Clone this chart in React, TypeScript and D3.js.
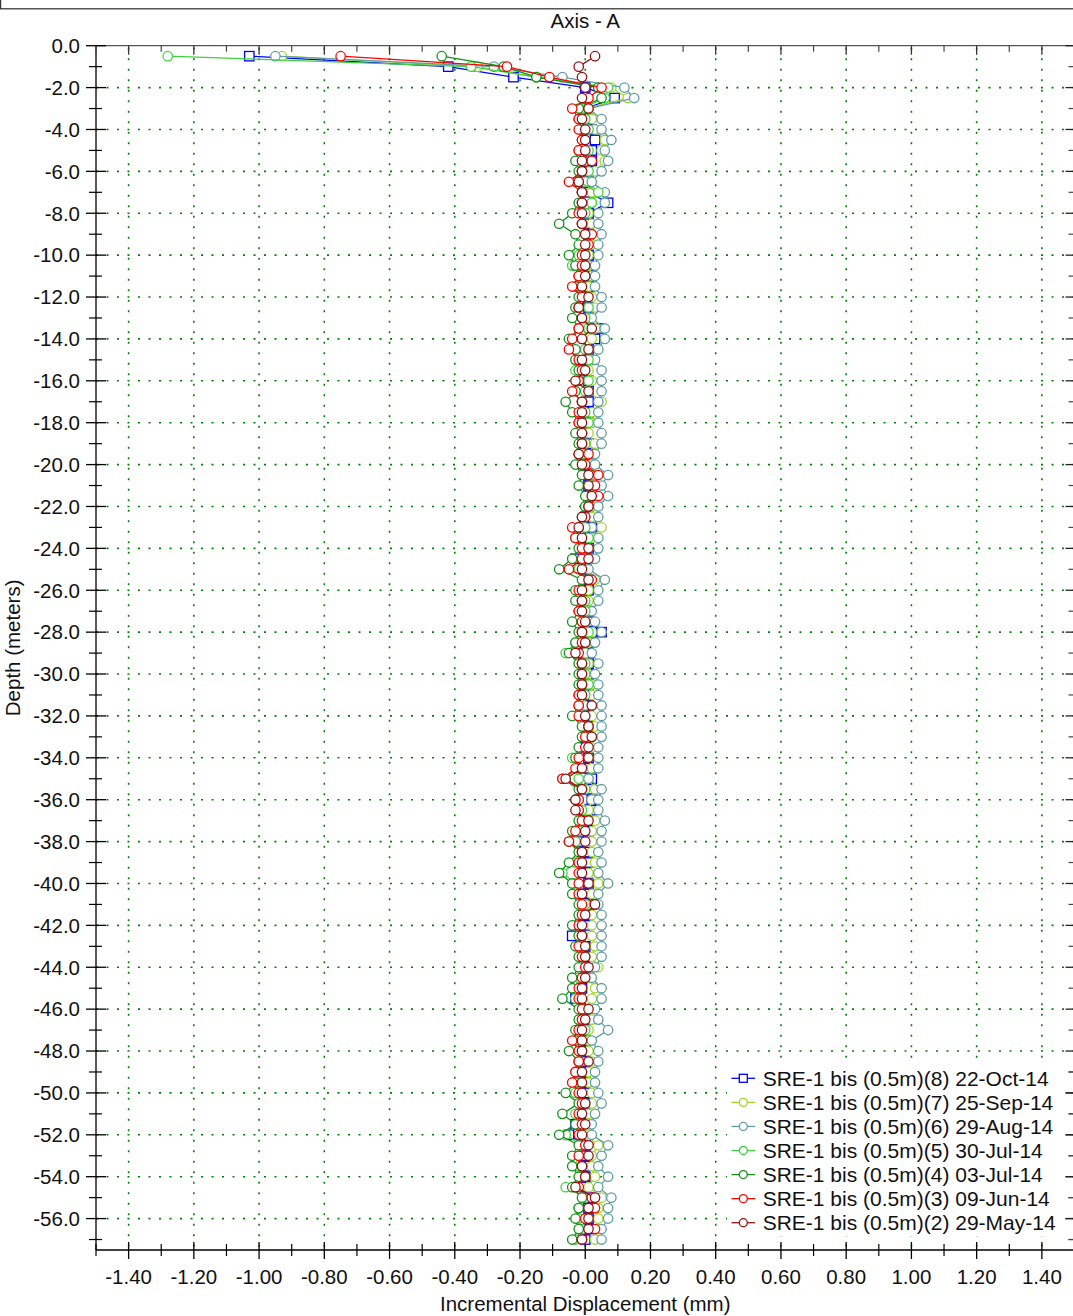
import React from "react";
import * as d3 from "d3";

// Probe depths (m): -0.5 ... -57.0 every 0.5 m
const depths: number[] = d3.range(1, 115).map((k) => -0.5 * k);

// Incremental displacement (mm) per survey
const s8 = [
  -1.03, -0.42, -0.22, 0.0, 0.09, 0.0, 0.01, 0.02, 0.03, 0.02,
  0.02, 0.01, 0.0, 0.01, 0.07, 0.01, 0.01, 0.01, 0.01, 0.01,
  0.01, 0.02, 0.01, 0.01, 0.01, 0.01, 0.04, 0.03, 0.01, 0.01,
  0.0, 0.01, 0.01, 0.01, 0.01, 0.01, 0.0, 0.01, 0.01, 0.0,
  0.01, 0.01, 0.01, 0.01, 0.0, 0.02, 0.01, 0.01, -0.03, 0.0,
  0.01, 0.01, 0.0, 0.01, 0.01, 0.05, 0.01, 0.0, 0.01, 0.01,
  0.01, 0.01, 0.01, 0.0, 0.01, 0.01, 0.0, 0.01, 0.01, 0.02,
  0.01, 0.02, 0.02, 0.01, 0.01, -0.02, 0.0, 0.01, 0.0, 0.01,
  0.0, 0.02, 0.01, 0.0, -0.04, 0.0, 0.0, 0.0, 0.0, -0.01,
  -0.03, 0.0, 0.0, 0.0, 0.0, 0.0, 0.0, -0.01, 0.0, 0.0,
  0.0, -0.01, -0.03, -0.05, 0.0, 0.0, 0.0, 0.0, 0.0, 0.01,
  0.01, 0.01, 0.01, 0.0,
];
const s7 = [
  -0.93, -0.33, -0.15, 0.08, 0.13, 0.0, 0.02, 0.03, 0.06, 0.05,
  0.06, 0.03, 0.0, 0.02, 0.02, 0.01, 0.02, 0.02, 0.02, 0.01,
  0.01, 0.02, 0.01, 0.02, 0.03, 0.01, 0.03, 0.02, 0.01, 0.02,
  0.01, 0.02, 0.01, 0.05, 0.02, 0.02, 0.01, 0.03, 0.01, 0.02,
  0.03, 0.02, 0.03, 0.02, 0.02, 0.05, 0.02, 0.01, 0.01, 0.0,
  0.03, 0.01, 0.01, 0.01, 0.0, 0.02, 0.01, 0.0, 0.01, 0.01,
  0.02, 0.02, 0.02, 0.02, 0.03, 0.02, 0.02, 0.01, 0.02, 0.01,
  0.03, 0.02, 0.01, 0.03, 0.02, 0.02, 0.02, 0.03, 0.01, 0.04,
  0.02, 0.01, 0.02, 0.02, 0.02, 0.03, 0.02, 0.04, 0.01, 0.03,
  0.02, 0.01, 0.02, 0.01, 0.01, 0.01, 0.02, 0.01, 0.01, 0.02,
  0.02, 0.01, 0.01, 0.0, 0.04, 0.02, 0.02, 0.03, 0.01, 0.05,
  0.04, 0.04, 0.04, 0.03,
];
const s6 = [
  -0.95, -0.28, -0.07, 0.12, 0.15, 0.01, 0.05, 0.05, 0.08, 0.06,
  0.07, 0.05, 0.02, 0.06, 0.06, 0.04, 0.04, 0.05, 0.04, 0.04,
  0.03, 0.03, 0.03, 0.05, 0.05, 0.02, 0.06, 0.06, 0.04, 0.03,
  0.05, 0.05, 0.05, 0.04, 0.04, 0.04, 0.05, 0.05, 0.03, 0.03,
  0.07, 0.05, 0.07, 0.04, 0.04, 0.02, 0.04, 0.04, 0.03, 0.01,
  0.06, 0.04, 0.04, 0.02, 0.03, 0.05, 0.03, 0.02, 0.04, 0.03,
  0.04, 0.04, 0.05, 0.05, 0.05, 0.05, 0.04, 0.04, 0.04, 0.01,
  0.05, 0.04, 0.04, 0.06, 0.05, 0.05, 0.04, 0.05, 0.04, 0.07,
  0.04, 0.04, 0.05, 0.05, 0.05, 0.05, 0.05, 0.03, 0.02, 0.05,
  0.05, 0.03, 0.04, 0.07, 0.02, 0.04, 0.04, 0.03, 0.03, 0.04,
  0.05, 0.03, 0.02, 0.02, 0.07, 0.05, 0.04, 0.07, 0.04, 0.08,
  0.07, 0.07, 0.05, 0.05,
];
const s5 = [
  -1.28, -0.35, -0.15, 0.07, 0.06, -0.01, 0.0, 0.01, 0.0, 0.01,
  0.0, 0.01, -0.02, 0.04, 0.02, 0.0, -0.01, 0.0, 0.01, -0.02,
  -0.04, 0.0, -0.02, 0.0, 0.01, 0.0, 0.01, -0.01, 0.0, 0.01,
  -0.03, 0.01, 0.0, -0.01, 0.0, 0.01, -0.01, 0.0, 0.0, -0.01,
  0.02, 0.01, 0.02, 0.0, 0.0, 0.0, 0.01, 0.0, -0.01, -0.02,
  0.01, -0.01, 0.0, 0.0, -0.01, 0.01, -0.03, -0.06, 0.0, 0.0,
  0.01, 0.0, 0.0, -0.01, 0.0, 0.01, 0.0, -0.04, -0.01, -0.02,
  0.0, -0.02, -0.01, 0.0, -0.02, -0.03, -0.01, -0.03, -0.07, -0.03,
  -0.02, 0.0, -0.01, -0.02, -0.01, -0.01, 0.0, -0.01, -0.02, -0.01,
  -0.03, 0.0, -0.01, 0.0, -0.02, -0.01, -0.02, -0.01, -0.02, -0.03,
  0.0, -0.03, -0.02, -0.06, -0.01, -0.02, -0.02, -0.01, -0.06, 0.0,
  -0.02, -0.02, -0.01, -0.03,
];
const s4 = [
  -0.44, -0.25, -0.15, 0.04, 0.05, -0.02, -0.02, -0.01, -0.01, -0.02,
  -0.03, -0.02, -0.03, -0.01, -0.02, -0.04, -0.08, -0.03, -0.02, -0.05,
  -0.03, -0.02, -0.03, -0.02, -0.03, -0.04, -0.02, -0.05, -0.03, -0.03,
  -0.02, -0.02, -0.03, -0.06, -0.04, -0.02, -0.03, -0.02, -0.02, -0.03,
  -0.01, -0.02, 0.0, 0.0, -0.01, -0.02, -0.03, -0.02, -0.04, -0.08,
  -0.01, -0.03, -0.03, -0.02, -0.04, -0.02, -0.03, -0.05, -0.02, -0.02,
  -0.02, -0.02, -0.02, -0.04, -0.01, -0.01, -0.02, -0.03, -0.02, -0.07,
  -0.02, -0.03, -0.02, -0.02, -0.04, -0.05, -0.02, -0.05, -0.08, -0.04,
  -0.04, -0.02, -0.02, -0.04, -0.02, -0.03, -0.02, -0.02, -0.04, -0.04,
  -0.07, -0.02, -0.02, -0.03, -0.03, -0.05, -0.02, -0.03, -0.03, -0.06,
  -0.02, -0.07, -0.03, -0.08, -0.02, -0.04, -0.04, -0.02, -0.04, -0.01,
  -0.02, -0.03, -0.02, -0.04,
];
const s3 = [
  -0.75, -0.24, -0.11, 0.05, 0.01, -0.04, -0.02, -0.02, -0.01, -0.02,
  0.02, -0.01, -0.05, -0.01, -0.01, -0.02, -0.01, 0.02, 0.01, -0.01,
  -0.01, -0.02, -0.04, -0.01, -0.02, -0.01, -0.02, -0.04, -0.05, -0.02,
  -0.01, -0.02, -0.04, -0.01, -0.02, -0.02, -0.01, -0.01, 0.01, 0.0,
  0.04, 0.03, 0.04, 0.01, 0.0, -0.04, -0.03, -0.01, -0.01, -0.05,
  0.02, -0.02, -0.01, -0.02, -0.01, -0.01, -0.01, -0.02, -0.01, -0.01,
  -0.01, -0.02, -0.02, -0.02, 0.01, 0.0, 0.0, -0.02, -0.03, -0.07,
  -0.01, -0.02, -0.02, -0.01, -0.03, -0.05, -0.01, -0.02, -0.02, -0.02,
  -0.02, -0.01, -0.01, -0.02, -0.01, -0.02, -0.01, 0.0, -0.01, -0.02,
  -0.02, -0.01, -0.01, -0.02, -0.04, -0.02, -0.02, -0.03, -0.04, -0.02,
  -0.01, -0.02, -0.01, -0.02, 0.0, -0.02, -0.01, 0.0, -0.02, 0.02,
  0.03, 0.0, 0.03, -0.01,
];
const s2 = [
  0.03, -0.02, -0.01, 0.0, -0.01, 0.01, -0.01, 0.0, 0.0, 0.0,
  -0.01, -0.01, -0.02, -0.01, -0.01, -0.01, -0.01, 0.0, 0.0, 0.0,
  0.0, 0.0, -0.01, 0.01, -0.02, -0.01, 0.02, -0.01, 0.01, -0.01,
  0.0, -0.03, 0.01, -0.01, -0.01, -0.01, -0.01, -0.01, -0.02, -0.01,
  0.01, 0.01, 0.02, 0.01, -0.01, -0.02, -0.01, 0.01, 0.01, -0.01,
  0.01, -0.01, -0.01, -0.01, 0.0, -0.01, 0.0, -0.03, -0.01, -0.01,
  -0.01, -0.01, 0.02, 0.0, 0.01, 0.02, 0.01, 0.01, -0.01, -0.06,
  -0.01, -0.03, -0.03, 0.01, 0.0, 0.0, -0.01, -0.01, -0.01, 0.01,
  -0.01, 0.03, 0.0, -0.01, -0.01, 0.0, 0.0, 0.01, 0.0, -0.01,
  -0.01, 0.01, 0.0, -0.01, -0.01, -0.01, 0.01, -0.01, -0.01, -0.01,
  0.0, -0.01, 0.0, -0.01, 0.01, 0.01, -0.01, 0.0, -0.03, 0.03,
  0.01, 0.01, 0.01, -0.01,
];

const seriesValues = [s8, s7, s6, s5, s4, s3, s2];
const seriesNames = [
  "SRE-1 bis (0.5m)(8) 22-Oct-14",
  "SRE-1 bis (0.5m)(7) 25-Sep-14",
  "SRE-1 bis (0.5m)(6) 29-Aug-14",
  "SRE-1 bis (0.5m)(5) 30-Jul-14",
  "SRE-1 bis (0.5m)(4) 03-Jul-14",
  "SRE-1 bis (0.5m)(3) 09-Jun-14",
  "SRE-1 bis (0.5m)(2) 29-May-14",
];
const seriesColors = ["#0000ff", "#a2d62c", "#5f9ea0", "#3fd23f", "#15901a", "#ff0000", "#8e1414"];
const seriesShapes = ["square", "circle", "circle", "circle", "circle", "circle", "circle"];

const xMajorTicks = [-1.4, -1.2, -1.0, -0.8, -0.6, -0.4, -0.2, 0, 0.2, 0.4, 0.6, 0.8, 1.0, 1.2, 1.4];
const xTickLabels = ["-1.40", "-1.20", "-1.00", "-0.80", "-0.60", "-0.40", "-0.20", "-0.00", "0.20", "0.40", "0.60", "0.80", "1.00", "1.20", "1.40"];
const xMinorTicks = [-1.5, -1.3, -1.1, -0.9, -0.7, -0.5, -0.3, -0.1, 0.1, 0.3, 0.5, 0.7, 0.9, 1.1, 1.3, 1.5];
const yMajorTicks = d3.range(0, 29).map((k) => -2 * k);
const yTickLabels = yMajorTicks.map((v) => (v === 0 ? "0.0" : v.toFixed(1)));
const yMinorTicks = d3.range(0, 29).map((k) => -2 * k - 1);

const FONT = "'Liberation Sans', Arial, Helvetica, sans-serif";

export default function App() {
  const W = 1073;
  const H = 1316;
  const x = d3.scaleLinear().domain([-1.5, 1.5]).range([96, 1074.5]);
  const y = d3.scaleLinear().domain([0, -57.5]).range([45.7, 1250]);
  const left = x(-1.5);
  const right = x(1.5);
  const top = y(0);
  const bottom = y(-57.5);

  const line = d3
    .line<number>()
    .x((d) => x(d))
    .y((_, i) => y(depths[i]));

  const grid = "#008000";
  const dash = "2 8.5";

  const legX = 731.5;
  const legY0 = 1078.3;
  const legDy = 24.07;

  const marker = (shape: string, cx: number, cy: number, color: string, key: string | number, r = 4.7) =>
    shape === "square" ? (
      <rect key={key} x={cx - r} y={cy - r} width={2 * r} height={2 * r} fill="#fff" stroke={color} strokeWidth={1.3} />
    ) : (
      <circle key={key} cx={cx} cy={cy} r={r} fill="#fff" stroke={color} strokeWidth={1.3} />
    );

  return (
    <svg
      width={W}
      height={H}
      viewBox={`0 0 ${W} ${H}`}
      style={{ position: "absolute", left: 0, top: 0, background: "#fff" }}
      fontFamily={FONT}
    >
      <rect x={0} y={0} width={W} height={H} fill="#fff" />
      {/* header frame */}
      <line x1={0} x2={W} y1={8.7} y2={8.7} stroke="#555" strokeWidth={1.6} />
      <line x1={0.6} x2={0.6} y1={0} y2={9} stroke="#333" strokeWidth={1.2} />
      <text x={(left + right) / 2} y={28} textAnchor="middle" fontSize={20.5} fill="#111">
        Axis - A
      </text>

      {/* grid */}
      {xMajorTicks.map((v) => (
        <line key={`gx${v}`} x1={x(v)} x2={x(v)} y1={top + 2} y2={bottom} stroke={grid} strokeWidth={1.6} strokeDasharray={dash} />
      ))}
      {yMajorTicks
        .filter((v) => v !== 0)
        .map((v) => (
          <line key={`gy${v}`} x1={left} x2={right} y1={y(v)} y2={y(v)} stroke={grid} strokeWidth={1.6} strokeDasharray={dash} />
        ))}

      {/* axes */}
      <line x1={left} x2={right} y1={top} y2={top} stroke="#555" strokeWidth={1.3} />
      <line x1={left} x2={left} y1={top} y2={bottom} stroke="#000" strokeWidth={1.3} />
      <line x1={left} x2={right} y1={bottom} y2={bottom} stroke="#000" strokeWidth={1.3} />
      <line x1={right} x2={right} y1={top} y2={bottom} stroke="#000" strokeWidth={1.3} />

      {/* left ticks */}
      {yMajorTicks.map((v) => (
        <line key={`ly${v}`} x1={left - 10} x2={left + 10} y1={y(v)} y2={y(v)} stroke="#000" strokeWidth={1.3} />
      ))}
      {yMinorTicks.map((v) => (
        <line key={`lyn${v}`} x1={left - 7} x2={left + 6} y1={y(v)} y2={y(v)} stroke="#000" strokeWidth={1.2} />
      ))}
      {/* right ticks */}
      {yMajorTicks.map((v) => (
        <line key={`ry${v}`} x1={right - 9} x2={right} y1={y(v)} y2={y(v)} stroke="#222" strokeWidth={1.3} />
      ))}
      {yMinorTicks.map((v) => (
        <line key={`ryn${v}`} x1={right - 6} x2={right} y1={y(v)} y2={y(v)} stroke="#444" strokeWidth={1.2} />
      ))}
      {/* bottom ticks */}
      {xMajorTicks.map((v) => (
        <line key={`bx${v}`} x1={x(v)} x2={x(v)} y1={bottom - 8} y2={bottom + 9} stroke="#000" strokeWidth={1.3} />
      ))}
      {xMinorTicks.map((v) => (
        <line key={`bxn${v}`} x1={x(v)} x2={x(v)} y1={bottom - 6} y2={bottom + 6} stroke="#000" strokeWidth={1.2} />
      ))}
      {/* top ticks */}
      {xMajorTicks.map((v) => (
        <line key={`tx${v}`} x1={x(v)} x2={x(v)} y1={top} y2={top + 9} stroke="#333" strokeWidth={1.3} />
      ))}
      {xMinorTicks.map((v) => (
        <line key={`txn${v}`} x1={x(v)} x2={x(v)} y1={top} y2={top + 6} stroke="#444" strokeWidth={1.2} />
      ))}

      {/* tick labels */}
      {yMajorTicks.map((v, i) => (
        <text key={`yl${v}`} x={80} y={y(v) + 7.3} textAnchor="end" fontSize={20.5} fill="#111">
          {yTickLabels[i]}
        </text>
      ))}
      {xMajorTicks.map((v, i) => (
        <text key={`xl${v}`} x={x(v)} y={1284} textAnchor="middle" fontSize={20.5} fill="#111">
          {xTickLabels[i]}
        </text>
      ))}

      {/* axis titles */}
      <text x={(left + right) / 2} y={1311} textAnchor="middle" fontSize={20.5} fill="#111">
        Incremental Displacement (mm)
      </text>
      <text transform={`translate(20,${(top + bottom) / 2}) rotate(-90)`} textAnchor="middle" fontSize={20.5} fill="#111">
        Depth (meters)
      </text>

      {/* series */}
      {seriesValues.map((vals, si) => (
        <g key={`s${si}`}>
          <path d={line(vals) || ""} fill="none" stroke={seriesColors[si]} strokeWidth={1.3} />
          {vals.map((v, i) => marker(seriesShapes[si], x(v), y(depths[i]), seriesColors[si], i))}
        </g>
      ))}

      {/* legend */}
      <rect x={727} y={1065} width={337} height={171} fill="#fff" />
      {seriesNames.map((name, i) => {
        const cy = legY0 + i * legDy;
        return (
          <g key={`leg${i}`}>
            <line x1={legX} x2={legX + 23.5} y1={cy} y2={cy} stroke={seriesColors[i]} strokeWidth={1.3} />
            {marker(seriesShapes[i], legX + 11.8, cy, seriesColors[i], "m", 4)}
            <text x={762.7} y={cy + 7.6} fontSize={21} fill="#111">
              {name}
            </text>
          </g>
        );
      })}
      {/* right ticks over legend area */}
      {yMajorTicks
        .filter((v) => y(v) > 1060)
        .map((v) => (
          <line key={`ry2${v}`} x1={right - 9} x2={right} y1={y(v)} y2={y(v)} stroke="#222" strokeWidth={1.3} />
        ))}
      {yMinorTicks
        .filter((v) => y(v) > 1060)
        .map((v) => (
          <line key={`ryn2${v}`} x1={right - 6} x2={right} y1={y(v)} y2={y(v)} stroke="#444" strokeWidth={1.2} />
        ))}
    </svg>
  );
}
